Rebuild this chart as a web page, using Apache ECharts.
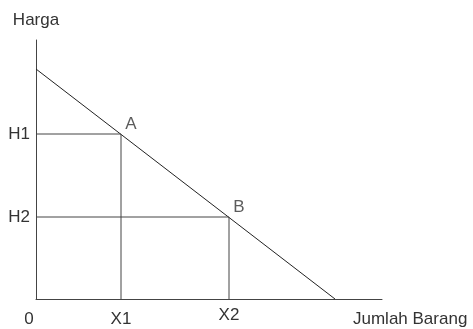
<!DOCTYPE html>
<html>
<head>
<meta charset="utf-8">
<script src="https://cdn.jsdelivr.net/npm/echarts@6/dist/echarts.min.js"></script>
<style>
  html, body { margin: 0; padding: 0; background: #fff; }
  #chart { width: 473px; height: 329px; }
</style>
</head>
<body>
<div id="chart"></div>
<script>
// kurva permintaan dan dua titik
let demandLine = [[0, 230], [299, 0]];
let pointA = [85, 165];
let pointB = [193, 82];
let xTicks = [0, 85, 193];
let xTickNames = ['0', 'X1', 'X2'];
let yTicks = [165, 82];
let yTickNames = ['H1', 'H2'];

let font = 'Liberation Sans, Arial, sans-serif';
let ink = '#333';

let chart = echarts.init(document.getElementById('chart'), null, { renderer: 'canvas' });

let guide = (p) => [[0, p[1]], [p[0], p[1]], [p[0], 0]];

chart.setOption({
    backgroundColor: '#fff',
    animation: false,
    grid: { left: 36, top: 40, right: 91, bottom: 30 },
    xAxis: {
        type: 'value', min: 0, max: 346,
        splitLine: { show: false },
        axisLine: { lineStyle: { color: '#444', width: 1 } },
        axisTick: { show: false },
        axisLabel: {
            customValues: xTicks,
            margin: 12,
            fontSize: 17, fontFamily: font, color: ink,
            formatter: (v) => {
                let name = xTickNames[xTicks.indexOf(v)];
                if (v === 0) return '{zero|0}';
                if (name === 'X2') return '{up|X2}';
                return name;
            },
            rich: {
                zero: { fontSize: 17, fontFamily: font, color: ink, padding: [0, 14, 0, 0] },
                up: { fontSize: 17, fontFamily: font, color: ink, lineHeight: 8 }
            }
        },
        name: 'Jumlah Barang',
        nameLocation: 'end',
        nameGap: -29,
        nameTextStyle: {
            fontSize: 17, fontFamily: font, color: ink,
            align: 'left', verticalAlign: 'top', padding: [12, 0, 0, 0]
        }
    },
    yAxis: {
        type: 'value', min: 0, max: 259,
        splitLine: { show: false },
        axisLine: { show: true, lineStyle: { color: '#444', width: 1 } },
        axisTick: { show: false },
        axisLabel: {
            customValues: yTicks,
            margin: 6,
            fontSize: 17, fontFamily: font, color: ink,
            formatter: (v) => yTickNames[yTicks.indexOf(v)]
        },
        name: 'Harga',
        nameLocation: 'end',
        nameGap: 20,
        nameTextStyle: {
            fontSize: 17, fontFamily: font, color: ink,
            align: 'center', verticalAlign: 'middle'
        }
    },
    series: [
        {
            type: 'line', data: demandLine, symbol: 'none', silent: true,
            lineStyle: { color: '#222', width: 1 }
        },
        {
            type: 'line', data: guide(pointA), symbol: 'none', silent: true,
            lineStyle: { color: '#444', width: 1 }
        },
        {
            type: 'line', data: guide(pointB), symbol: 'none', silent: true,
            lineStyle: { color: '#444', width: 1 }
        },
        {
            type: 'scatter', symbolSize: 0, silent: true,
            data: [
                { value: pointA, name: 'A' },
                { value: pointB, name: 'B' }
            ],
            label: {
                show: true, position: 'inside', offset: [10, -10],
                formatter: (p) => p.name,
                fontSize: 17, fontFamily: font, color: ink
            }
        }
    ]
});
</script>
</body>
</html>
